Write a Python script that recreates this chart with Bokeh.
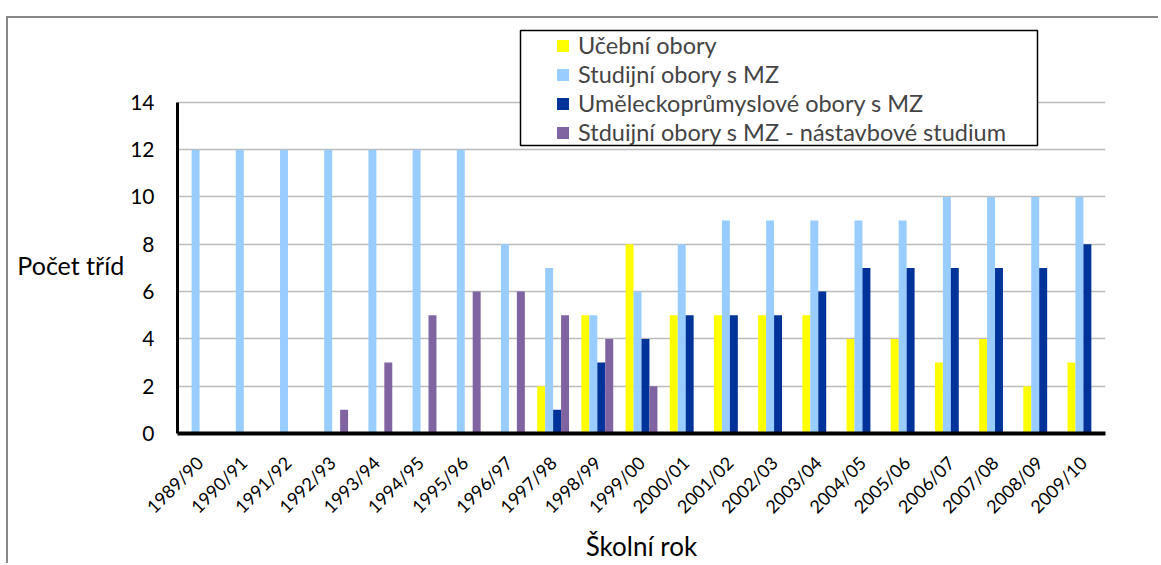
import math
from bokeh.plotting import figure
from bokeh.models import (ColumnDataSource, FactorRange, Legend, LegendItem,
                          BoxAnnotation, FixedTicker, Range1d)
from bokeh.transform import dodge
from bokeh.embed import file_html
from bokeh.resources import INLINE

years = ["1989/90", "1990/91", "1991/92", "1992/93", "1993/94", "1994/95", "1995/96",
         "1996/97", "1997/98", "1998/99", "1999/00", "2000/01", "2001/02", "2002/03",
         "2003/04", "2004/05", "2005/06", "2006/07", "2007/08", "2008/09", "2009/10"]
ucebni = [0, 0, 0, 0, 0, 0, 0, 0, 2, 5, 8, 5, 5, 5, 5, 4, 4, 3, 4, 2, 3]
studijni = [12, 12, 12, 12, 12, 12, 12, 8, 7, 5, 6, 8, 9, 9, 9, 9, 9, 10, 10, 10, 10]
umelecko = [0, 0, 0, 0, 0, 0, 0, 0, 1, 3, 4, 5, 5, 5, 6, 7, 7, 7, 7, 7, 8]
nastavba = [0, 0, 0, 1, 3, 5, 6, 6, 5, 4, 2, 0, 0, 0, 0, 0, 0, 0, 0, 0, 0]
y_ticks = [0, 2, 4, 6, 8, 10, 12, 14]

series_names = ["Učební obory", "Studijní obory s MZ",
                "Uměleckoprůmyslové obory s MZ",
                "Stduijní obory s MZ - nástavbové studium"]
series_keys = ["ucebni", "studijni", "umelecko", "nastavba"]
colors = ["#FFFF00", "#99CCFF", "#003399", "#8064A2"]
offsets = [-0.27, -0.09, 0.09, 0.27]

FONT = "Lato"

source = ColumnDataSource(dict(years=years, ucebni=ucebni, studijni=studijni,
                               umelecko=umelecko, nastavba=nastavba))

# frame: x 177..1105, y 28..434 (value 14 at y=102)
y_top = 14 * (434 - 28) / (434 - 102)

p = figure(x_range=FactorRange(*years, range_padding=0), y_range=Range1d(0, y_top),
           width=1152, height=547, output_backend="svg", toolbar_location=None,
           min_border_left=169, min_border_right=55, min_border_top=10,
           min_border_bottom=131)
p.styles = {"border-top": "2px solid #888888", "border-left": "2px solid #888888",
            "position": "relative", "top": "16px", "left": "6px"}
p.outline_line_color = None
p.background_fill_color = "white"
p.border_fill_color = "white"

renderers = []
for key, col, off in zip(series_keys, colors, offsets):
    r = p.vbar(x=dodge("years", off, range=p.x_range), top=key, width=0.18,
               source=source, fill_color=col, line_color=None)
    renderers.append(r)

p.xgrid.grid_line_color = None
p.ygrid.grid_line_color = "#bbbbbb"
p.ygrid.grid_line_width = 1.5
p.yaxis.ticker = FixedTicker(ticks=y_ticks)
p.yaxis.bounds = (0, 14)

for ax in (p.xaxis[0], p.yaxis[0]):
    ax.axis_line_color = "black"
    ax.major_tick_line_color = None
    ax.minor_tick_line_color = None
    ax.major_label_text_font = FONT
    ax.axis_label_text_font = FONT
    ax.axis_label_text_font_style = "normal"
    ax.major_label_text_color = "black"
    ax.axis_label_text_color = "black"

p.yaxis.axis_line_width = 3
p.xaxis.axis_line_width = 4
p.yaxis.major_label_text_font_size = "21px"
p.yaxis.major_label_standoff = 17
p.yaxis.axis_label = "\nPočet tříd"
p.yaxis.axis_label_orientation = "horizontal"
p.yaxis.axis_label_text_font_size = "25px"
p.yaxis.axis_label_text_line_height = 2.24
p.yaxis.axis_label_standoff = 3

p.xaxis.major_label_orientation = math.pi / 4
p.xaxis.major_label_text_font_size = "18px"
p.xaxis.major_label_standoff = 20
p.xaxis.axis_label = "Školní rok"
p.xaxis.axis_label_text_font_size = "26px"
p.xaxis.axis_label_standoff = 2

box = BoxAnnotation(left=343, right=860, bottom=288, top=403,
                    left_units="screen", right_units="screen",
                    bottom_units="screen", top_units="screen",
                    fill_color="white", fill_alpha=1.0,
                    line_color="black", line_alpha=1.0, line_width=1.5,
                    level="annotation")
p.add_layout(box)

legend = Legend(items=[LegendItem(label=n, renderers=[r]) for n, r in zip(series_names, renderers)],
                location=(376, 285), orientation="vertical",
                label_text_font=FONT, label_text_font_size="23.5px",
                glyph_width=15, glyph_height=15, label_height=22, spacing=1,
                padding=2, label_standoff=8, margin=0,
                border_line_alpha=0, background_fill_alpha=0)
p.add_layout(legend, "center")

open("out.html", "w").write(file_html(p, INLINE))
